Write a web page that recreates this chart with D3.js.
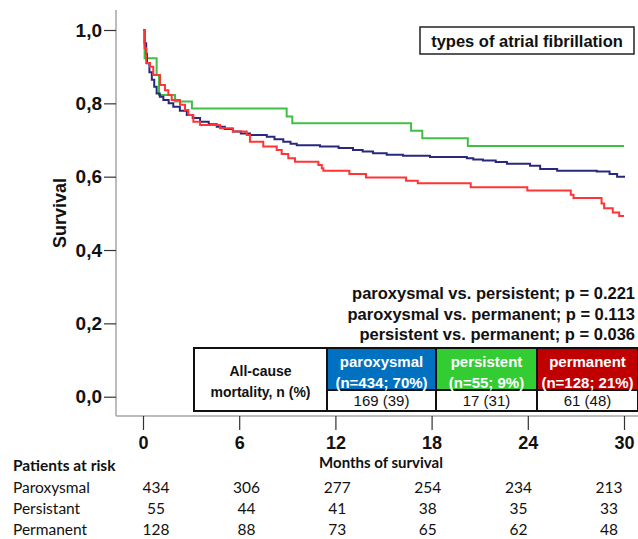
<!DOCTYPE html>
<html>
<head>
<meta charset="utf-8">
<script src="https://cdn.jsdelivr.net/npm/d3@7/dist/d3.min.js"></script>
<style>
  body { margin: 0; background: #fff; }
  svg { display: block; font-family: "Liberation Sans", Arial, sans-serif; }
</style>
</head>
<body>
<svg id="chart" width="638" height="539"></svg>
<script>
// Survival curves (month, survival)
var paroxysmal = [[0,1],[0.1,0.964],[0.2,0.935],[0.25,0.909],[0.4,0.885],[0.55,0.864],[0.7,0.845],[0.85,0.827],[1.05,0.818],[1.27,0.809],[1.6,0.8],[1.89,0.791],[2.3,0.78],[2.73,0.768],[3.1,0.76],[3.56,0.75],[4.1,0.743],[4.6,0.736],[5.1,0.73],[5.61,0.723],[6.1,0.718],[6.67,0.714],[7.72,0.709],[8.2,0.702],[8.75,0.695],[9.2,0.69],[9.59,0.686],[11.04,0.682],[12.2,0.678],[13.1,0.673],[13.7,0.669],[14.35,0.664],[15.2,0.66],[16.22,0.657],[17.9,0.654],[20.2,0.65],[20.6,0.647],[21.2,0.644],[22,0.64],[22.7,0.635],[24.14,0.63],[24.77,0.621],[25.83,0.616],[28.3,0.614],[29.1,0.607],[29.57,0.6],[30,0.597]];
var persistent = [[0,1],[0.1,0.923],[0.85,0.877],[1.0,0.823],[2.0,0.805],[3.05,0.786],[8.96,0.764],[9.31,0.746],[16.72,0.725],[17.42,0.705],[20.26,0.684],[30,0.684]];
var permanent = [[0,1],[0.1,0.95],[0.2,0.91],[0.44,0.9],[0.64,0.877],[1.06,0.85],[1.37,0.836],[1.58,0.823],[1.79,0.809],[2.31,0.796],[2.62,0.782],[2.83,0.768],[3.14,0.75],[3.56,0.741],[4.8,0.732],[5.6,0.723],[6.47,0.714],[6.67,0.695],[7.5,0.682],[8.34,0.673],[8.65,0.662],[9.06,0.65],[9.48,0.641],[10.94,0.632],[11.15,0.623],[11.25,0.616],[12.87,0.607],[13.91,0.598],[16.41,0.589],[17.14,0.582],[20.44,0.571],[23.97,0.562],[26.68,0.551],[26.85,0.542],[28.6,0.527],[28.76,0.514],[29.3,0.502],[29.7,0.493],[30,0.493]];

var seriesNames = ["paroxysmal", "persistent", "permanent"];
var seriesN = ["(n=434; 70%)", "(n=55; 9%)", "(n=128; 21%)"];
var mortality = ["169 (39)", "17 (31)", "61 (48)"];
var pValues = ["paroxysmal vs. persistent; p = 0.221", "paroxysmal vs. permanent; p = 0.113", "persistent vs. permanent; p = 0.036"];

var xTicks = [0, 6, 12, 18, 24, 30];
var yTicks = [0, 0.2, 0.4, 0.6, 0.8, 1.0];
var riskLabels = ["Paroxysmal", "Persistant", "Permanent"];
var riskParoxysmal = [434, 306, 277, 254, 234, 213];
var riskPersistent = [55, 44, 41, 38, 35, 33];
var riskPermanent = [128, 88, 73, 65, 62, 48];

var lineColours = ["#28287e", "#41bf45", "#ff3535"];
var cellColours = ["#0070c0", "#33cc33", "#c00000"];

var svg = d3.select("#chart");

var x = d3.scaleLinear().domain([0, 30]).range([143, 624]);
var y = d3.scaleLinear().domain([0, 1]).range([396.7, 30]);
var xRisk = d3.scaleLinear().domain([0, 30]).range([156, 609]);

// axis lines (gray frame)
svg.append("line").attr("x1", 116).attr("x2", 116).attr("y1", 10).attr("y2", 416)
  .attr("stroke", "#a6a6a6").attr("stroke-width", 1.5);
svg.append("line").attr("x1", 116).attr("x2", 638).attr("y1", 416).attr("y2", 416)
  .attr("stroke", "#a6a6a6").attr("stroke-width", 1.5);

// y axis
var yAxis = svg.append("g").attr("transform", "translate(116,0)")
  .call(d3.axisLeft(y).tickValues(yTicks).tickSize(12).tickPadding(2)
    .tickFormat(function(d){ return d3.format(".1f")(d).replace(".", ","); }));
yAxis.select(".domain").remove();
yAxis.selectAll("line").attr("stroke", "#333").attr("stroke-width", 1.2);
yAxis.selectAll("text").attr("font-size", 19).attr("font-weight", "bold").attr("fill", "#111")
  .attr("font-family", "Liberation Sans, Arial, sans-serif");

// x axis
var xAxis = svg.append("g").attr("transform", "translate(0,416)")
  .call(d3.axisBottom(x).tickValues(xTicks).tickSize(14).tickPadding(6));
xAxis.select(".domain").remove();
xAxis.selectAll("line").attr("stroke", "#333").attr("stroke-width", 1.2);
xAxis.selectAll("text").attr("font-size", 18).attr("font-weight", "bold").attr("fill", "#111")
  .attr("font-family", "Liberation Sans, Arial, sans-serif");

// y title
svg.append("text").attr("transform", "translate(66,213) rotate(-90)")
  .attr("text-anchor", "middle").attr("font-size", 18).attr("font-weight", "bold")
  .attr("fill", "#111").text("Survival");

// curves
var line = d3.line().x(function(d){ return x(d[0]); }).y(function(d){ return y(d[1]); })
  .curve(d3.curveStepAfter);
[persistent, paroxysmal, permanent].forEach(function(s, i) {
  var c = [lineColours[1], lineColours[0], lineColours[2]][i];
  svg.append("path").datum(s).attr("d", line).attr("fill", "none")
    .attr("stroke", c).attr("stroke-width", 2);
});

// legend title box
svg.append("rect").attr("x", 420).attr("y", 27).attr("width", 214).attr("height", 27)
  .attr("fill", "#fff").attr("stroke", "#222").attr("stroke-width", 1.5);
svg.append("text").attr("x", 527).attr("y", 46.5).attr("text-anchor", "middle")
  .attr("font-size", 16.5).attr("font-weight", "bold").attr("fill", "#111")
  .text("types of atrial fibrillation");

// p-values
svg.selectAll(".pval").data(pValues).enter().append("text")
  .attr("x", 635).attr("y", function(d, i){ return 299 + i * 20.5; })
  .attr("text-anchor", "end").attr("font-size", 16.5).attr("font-weight", "bold")
  .attr("fill", "#111").text(function(d){ return d; });

// mortality table
var cellX = [327, 436, 537, 638];
svg.append("rect").attr("x", 194).attr("y", 348).attr("width", 133).attr("height", 63)
  .attr("fill", "#fff").attr("stroke", "#111").attr("stroke-width", 2);
svg.append("text").attr("x", 260.5).attr("y", 376).attr("text-anchor", "middle")
  .attr("font-size", 14).attr("font-weight", "bold").attr("fill", "#111").text("All-cause");
svg.append("text").attr("x", 260.5).attr("y", 397).attr("text-anchor", "middle")
  .attr("font-size", 14).attr("font-weight", "bold").attr("fill", "#111").text("mortality, n (%)");

seriesNames.forEach(function(name, i) {
  var x0 = cellX[i], w = cellX[i + 1] - cellX[i], cx = x0 + w / 2;
  svg.append("rect").attr("x", x0).attr("y", 348).attr("width", w).attr("height", 42)
    .attr("fill", cellColours[i]).attr("stroke", "#111").attr("stroke-width", 2);
  svg.append("rect").attr("x", x0).attr("y", 390).attr("width", w).attr("height", 21)
    .attr("fill", "#fff").attr("stroke", "#111").attr("stroke-width", 2);
  svg.append("text").attr("x", cx).attr("y", 367).attr("text-anchor", "middle")
    .attr("font-size", 15).attr("font-weight", "bold").attr("fill", "#fff").text(name);
  svg.append("text").attr("x", cx).attr("y", 387.5).attr("text-anchor", "middle")
    .attr("font-size", 15).attr("font-weight", "bold").attr("fill", "#fff").text(seriesN[i]);
  svg.append("text").attr("x", cx).attr("y", 406).attr("text-anchor", "middle")
    .attr("font-size", 15).attr("fill", "#111").text(mortality[i]);
});

// x title
svg.append("text").attr("x", 381).attr("y", 468).attr("text-anchor", "middle")
  .attr("font-family", "Lato, sans-serif").attr("font-size", 15).attr("font-weight", "bold")
  .attr("fill", "#111").text("Months of survival");

// patients at risk
svg.append("text").attr("x", 13).attr("y", 471).attr("font-family", "Lato, sans-serif")
  .attr("font-size", 15.5).attr("font-weight", "bold").attr("fill", "#111").text("Patients at risk");
var riskRows = [riskParoxysmal, riskPersistent, riskPermanent];
riskRows.forEach(function(row, r) {
  var ty = 493 + r * 21;
  svg.append("text").attr("x", 13).attr("y", ty).attr("font-family", "Lato, sans-serif")
    .attr("font-size", 15.5).attr("fill", "#111").text(riskLabels[r]);
  svg.selectAll(".risk" + r).data(row).enter().append("text")
    .attr("x", function(d, i){ return xRisk(xTicks[i]); }).attr("y", ty)
    .attr("text-anchor", "middle").attr("font-family", "Lato, sans-serif")
    .attr("font-size", 15.5).attr("fill", "#111").text(function(d){ return d; });
});
</script>
</body>
</html>
